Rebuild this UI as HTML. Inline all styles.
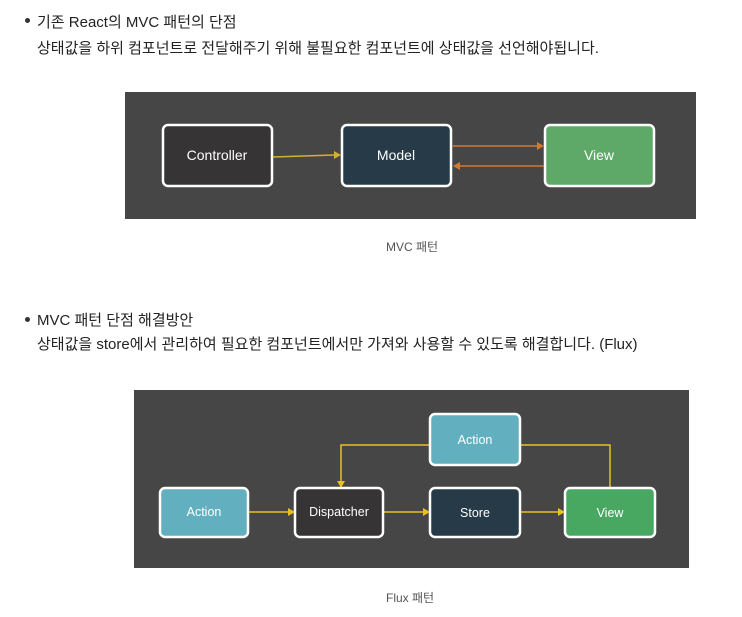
<!DOCTYPE html>
<html><head><meta charset="utf-8"><style>
body{margin:0;width:742px;height:617px;background:#fff;font-family:"Liberation Sans","Noto Sans CJK KR",sans-serif;color:#222;position:relative;overflow:hidden}
.t{position:absolute;font-size:15px;white-space:nowrap}
.c{position:absolute;font-size:12px;color:#555;white-space:nowrap}
.dot{position:absolute;width:5px;height:5px;border-radius:50%;background:#333}
</style></head><body>
<div class="dot" style="left:25px;top:18px"></div>
<div class="t" style="left:37px;top:11px">기존 React의 MVC 패턴의 단점</div>
<div class="t" style="left:37px;top:37px">상태값을 하위 컴포넌트로 전달해주기 위해 불필요한 컴포넌트에 상태값을 선언해야됩니다.</div>
<svg style="position:absolute;left:0;top:0" width="742" height="617" font-family="Liberation Sans, sans-serif">
<rect x="125" y="92" width="571" height="127" fill="#464646"/>
<g stroke="#fff" stroke-width="2.5">
<rect x="163" y="125" width="109" height="61" rx="5" fill="#363434"/>
<rect x="342" y="125" width="109" height="61" rx="5" fill="#263a47"/>
<rect x="545" y="125" width="109" height="61" rx="5" fill="#5ea868"/>
</g>
<g fill="#fff" font-size="14" text-anchor="middle">
<text x="217" y="160">Controller</text><text x="396" y="160">Model</text><text x="599" y="160">View</text></g>
<line x1="273" y1="157" x2="334" y2="155" stroke="#d4b030" stroke-width="1.5"/><path d="M341 155l-7-4v8z" fill="#d4b030"/>
<line x1="452" y1="146" x2="537" y2="146" stroke="#d07a30" stroke-width="1.5"/><path d="M544 146l-7-4v8z" fill="#d07a30"/>
<line x1="460" y1="166" x2="544" y2="166" stroke="#d07a30" stroke-width="1.5"/><path d="M453 166l7-4v8z" fill="#d07a30"/>

<rect x="134" y="390" width="555" height="178" fill="#464646"/>
<g stroke="#e8c020" stroke-width="1.5" fill="none">
<polyline points="430,445 341,445 341,481"/>
<polyline points="520,445 610,445 610,488"/>
<line x1="249" y1="512" x2="288" y2="512"/>
<line x1="384" y1="512" x2="423" y2="512"/>
<line x1="521" y1="512" x2="558" y2="512"/>
</g>
<g fill="#e8c020">
<path d="M341 488l-4-7h8z"/><path d="M295 512l-7-4v8z"/><path d="M430 512l-7-4v8z"/><path d="M565 512l-7-4v8z"/></g>
<g stroke="#fff" stroke-width="2.5">
<rect x="430" y="414" width="90" height="51" rx="5" fill="#62afbf"/>
<rect x="160" y="488" width="88" height="49" rx="5" fill="#62afbf"/>
<rect x="295" y="488" width="88" height="49" rx="5" fill="#363434"/>
<rect x="430" y="488" width="90" height="49" rx="5" fill="#263a47"/>
<rect x="565" y="488" width="90" height="49" rx="5" fill="#48a862"/>
</g>
<g fill="#fff" font-size="12.5" text-anchor="middle">
<text x="475" y="444">Action</text><text x="204" y="516">Action</text><text x="339" y="516">Dispatcher</text><text x="475" y="517">Store</text><text x="610" y="517">View</text></g>
</svg>
<div class="c" style="left:386px;top:238px">MVC 패턴</div>
<div class="dot" style="left:25px;top:317px"></div>
<div class="t" style="left:37px;top:309px">MVC 패턴 단점 해결방안</div>
<div class="t" style="left:37px;top:333px">상태값을 store에서 관리하여 필요한 컴포넌트에서만 가져와 사용할 수 있도록 해결합니다. (Flux)</div>
<div class="c" style="left:386px;top:589px">Flux 패턴</div>
</body></html>
